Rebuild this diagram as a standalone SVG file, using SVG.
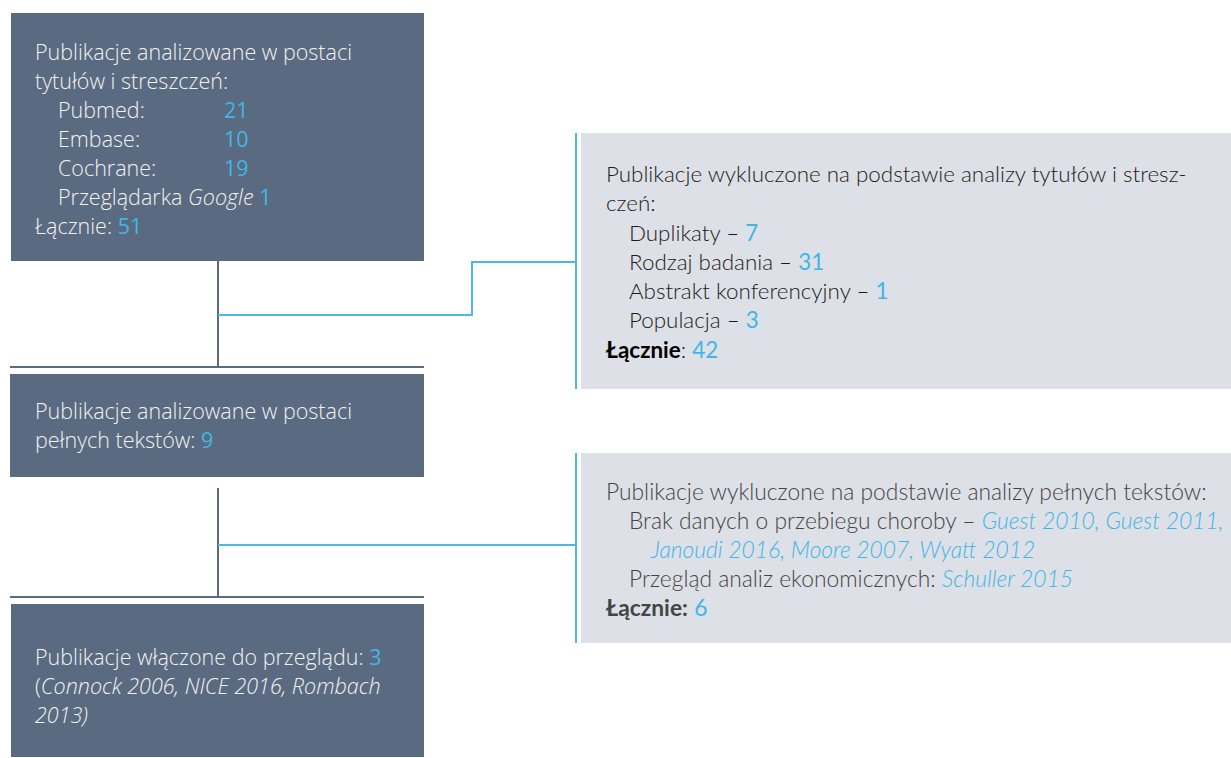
<svg xmlns="http://www.w3.org/2000/svg" width="1231" height="758" viewBox="0 0 1231 758">
<style>
.dark{fill:#5a6a80}
.light{fill:#dde0e6}
.t1{font-family:"Open Sans","Noto Sans",sans-serif;font-weight:300;font-size:21.5px;fill:#f2f2f2}
.t2{font-family:Lato,"Open Sans",sans-serif;font-weight:300;font-size:22.4px;fill:#1c1c1c}
.t3{font-family:Lato,"Open Sans",sans-serif;font-weight:300;font-size:22.8px;fill:#454545}
.n{fill:#41b6e6;font-weight:400}
.b{font-weight:700}
.k{fill:#000}
.i{font-style:italic}
.il{font-style:italic;font-weight:300;fill:#41b6e6}
.gl{stroke:#5a6a80;stroke-width:2;fill:none}
.bl{stroke:#4ab9e9;stroke-width:2;fill:none}
</style>
<rect width="1231" height="758" fill="#ffffff"/>
<g id="connectors">
<line class="gl" x1="218" y1="261" x2="218" y2="367"/>
<line class="gl" x1="10" y1="367" x2="424" y2="367"/>
<line class="gl" x1="218" y1="488" x2="218" y2="597"/>
<line class="gl" x1="10" y1="597" x2="424" y2="597"/>
<polyline class="bl" points="218,315 472,315 472,262 576,262"/>
<line class="bl" x1="576" y1="133" x2="576" y2="389"/>
<line class="bl" x1="218" y1="545" x2="576" y2="545"/>
<line class="bl" x1="576" y1="453" x2="576" y2="643"/>
</g>
<g id="node1">
<rect class="dark" x="11" y="13" width="413" height="248"/>
<text class="t1" x="35" y="60">Publikacje analizowane w postaci</text>
<text class="t1" x="35" y="89">tytułów i streszczeń:</text>
<text class="t1" x="58" y="118">Pubmed:</text><text class="t1 n" x="224" y="118">21</text>
<text class="t1" x="58" y="147">Embase:</text><text class="t1 n" x="224" y="147">10</text>
<text class="t1" x="58" y="176">Cochrane:</text><text class="t1 n" x="224" y="176">19</text>
<text class="t1" x="58" y="205">Przeglądarka <tspan class="i">Google</tspan> <tspan class="n">1</tspan></text>
<text class="t1" x="35" y="234">Łącznie: <tspan class="n">51</tspan></text>
</g>
<g id="node2">
<rect class="dark" x="10" y="374" width="414" height="103"/>
<text class="t1" x="35" y="419">Publikacje analizowane w postaci</text>
<text class="t1" x="35" y="448">pełnych tekstów: <tspan class="n">9</tspan></text>
</g>
<g id="node3">
<rect class="light" x="581" y="133" width="650" height="256"/>
<text class="t2" x="606" y="182">Publikacje wykluczone na podstawie analizy tytułów i stresz-</text>
<text class="t2" x="606" y="211">czeń:</text>
<text class="t2" x="629" y="241">Duplikaty – <tspan class="n">7</tspan></text>
<text class="t2" x="629" y="270">Rodzaj badania – <tspan class="n">31</tspan></text>
<text class="t2" x="629" y="299">Abstrakt konferencyjny – <tspan class="n">1</tspan></text>
<text class="t2" x="629" y="328">Populacja – <tspan class="n">3</tspan></text>
<text class="t2" x="606" y="358"><tspan class="b k">Łącznie</tspan>: <tspan class="n">42</tspan></text>
</g>
<g id="node4">
<rect class="light" x="581" y="453" width="650" height="190"/>
<text class="t3" x="606" y="500">Publikacje wykluczone na podstawie analizy pełnych tekstów:</text>
<text class="t3" x="629" y="529">Brak danych o przebiegu choroby – <tspan class="il">Guest 2010, Guest 2011,</tspan></text>
<text class="t3 il" x="651" y="558">Janoudi 2016, Moore 2007, Wyatt 2012</text>
<text class="t3" x="629" y="587">Przegląd analiz ekonomicznych: <tspan class="il">Schuller 2015</tspan></text>
<text class="t3" x="606" y="616"><tspan class="b">Łącznie:</tspan> <tspan class="n">6</tspan></text>
</g>
<g id="node5">
<rect class="dark" x="11" y="604" width="413" height="153"/>
<text class="t1" x="35" y="665">Publikacje włączone do przeglądu: <tspan class="n">3</tspan></text>
<text class="t1" x="35" y="694">(<tspan class="i">Connock 2006, NICE 2016, Rombach</tspan></text>
<text class="t1 i" x="35" y="723">2013)</text>
</g>
</svg>
